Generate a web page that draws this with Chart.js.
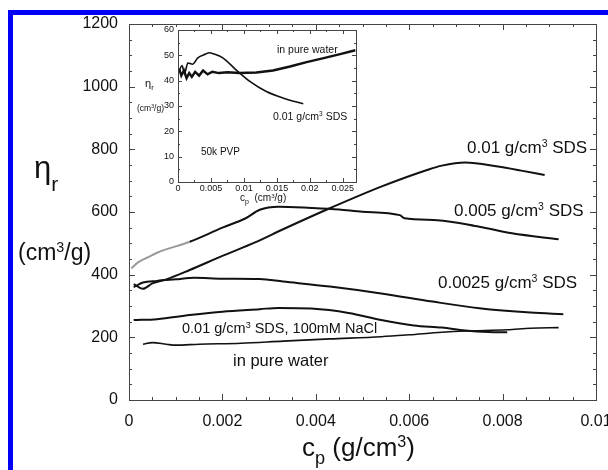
<!DOCTYPE html>
<html>
<head>
<meta charset="utf-8">
<script src="https://cdn.jsdelivr.net/npm/chart.js@4.4.1/dist/chart.umd.min.js"></script>
<style>
  body { margin: 0; background: #fff; }
  #wrap { position: relative; width: 608px; height: 470px; overflow: hidden; font-family: "Liberation Sans", Arial, sans-serif; color: #111; }
  .lbl { position: absolute; white-space: nowrap; line-height: 1; }
  .lbl sup { font-size: 0.62em; vertical-align: 0.55em; line-height: 0; }
  .lbl sub { font-size: 0.7em; vertical-align: -0.45em; line-height: 0; }
  #inset { position: absolute; left: 130px; top: 26px; }
</style>
</head>
<body>
<div id="wrap">
  <canvas id="mainChart" width="608" height="470"></canvas>
  <div id="inset"><canvas id="insetChart" width="232" height="180"></canvas></div>

  <!-- blue frame, top and left only -->
  <div style="position:absolute;left:8px;top:10px;width:600px;height:5px;background:#0000f8"></div>
  <div style="position:absolute;left:8px;top:10px;width:5px;height:460px;background:#0000f8"></div>

  <!-- axis titles -->
  <div class="lbl" style="left:34px;top:152px;font-size:31px">η<sub style="font-size:0.68em;vertical-align:-0.6em">r</sub></div>
  <div class="lbl" style="left:18px;top:241px;font-size:23px">(cm<sup>3</sup>/g)</div>
  <div class="lbl" style="left:302px;top:434px;font-size:26px">c<sub>p</sub> (g/cm<sup>3</sup>)</div>

  <!-- curve labels, main -->
  <div class="lbl" style="left:467px;top:139px;font-size:17px">0.01 g/cm<sup>3</sup> SDS</div>
  <div class="lbl" style="left:454px;top:202px;font-size:17px">0.005 g/cm<sup>3</sup> SDS</div>
  <div class="lbl" style="left:438px;top:274px;font-size:17px">0.0025 g/cm<sup>3</sup> SDS</div>
  <div class="lbl" style="left:182px;top:321px;font-size:14.5px">0.01 g/cm<sup>3</sup> SDS, 100mM NaCl</div>
  <div class="lbl" style="left:233px;top:352px;font-size:16.5px">in pure water</div>

  <!-- inset labels -->
  <div class="lbl" style="left:277px;top:44px;font-size:10.5px">in pure water</div>
  <div class="lbl" style="left:273px;top:111px;font-size:10.5px">0.01 g/cm<sup>3</sup> SDS</div>
  <div class="lbl" style="left:201px;top:147px;font-size:10px">50k PVP</div>
  <div class="lbl" style="left:145px;top:78px;font-size:11px">η<sub>r</sub></div>
  <div class="lbl" style="left:137px;top:104px;font-size:8.5px">(cm<sup>3</sup>/g)</div>
  <div class="lbl" style="left:240px;top:193px;font-size:10px">c<sub>p</sub>&nbsp; (cm<sup>3</sup>/g)</div>
</div>

<script>
// main plot: c_p in g/cm3, eta_r in cm3/g
const sds010X = [0.0001, 0.0003, 0.0005, 0.0008, 0.0013, 0.002, 0.0027, 0.0033, 0.0043, 0.0054, 0.0064, 0.0067, 0.0072, 0.0079, 0.0084, 0.0089];
const sds010Y = [370, 355, 372, 385, 415, 460, 503, 545, 612, 681, 735, 748, 758, 745, 732, 718];

const sds005X = [0.00005, 0.0002, 0.0004, 0.0006, 0.0013, 0.002, 0.0025, 0.0028, 0.0032, 0.0039, 0.0045, 0.005, 0.0058, 0.0059, 0.0066, 0.0075, 0.0082, 0.0092];
const sds005Y = [420, 440, 455, 470, 505, 550, 580, 607, 617, 613, 608, 601, 590, 580, 574, 553, 532, 513];

const sds0025X = [0.0001, 0.0003, 0.0006, 0.001, 0.0014, 0.002, 0.0028, 0.0033, 0.0043, 0.0054, 0.0065, 0.0075, 0.0086, 0.0093];
const sds0025Y = [360, 375, 380, 385, 390, 387, 386, 378, 362, 340, 314, 293, 279, 274];

const naclX = [0.0001, 0.0006, 0.0013, 0.002, 0.0028, 0.0032, 0.0039, 0.0047, 0.0054, 0.0061, 0.0067, 0.0072, 0.0077, 0.0081];
const naclY = [255, 258, 271, 282, 290, 294, 292, 278, 255, 238, 231, 222, 217, 216];

const waterX = [0.0003, 0.0005, 0.0008, 0.001, 0.0015, 0.0024, 0.0033, 0.0043, 0.0054, 0.006, 0.0067, 0.0072, 0.0081, 0.0086, 0.0092];
const waterY = [178, 183, 178, 175, 178, 181, 188, 195, 202, 208, 216, 220, 224, 229, 231];

// inset: 50k PVP
const inSdsX = [0.0002, 0.0006, 0.001, 0.0015, 0.0022, 0.003, 0.0042, 0.0047, 0.0055, 0.0068, 0.0088, 0.0109, 0.0134, 0.016, 0.019];
const inSdsY = [44, 46, 43, 47, 46.5, 49, 50.5, 51, 50.5, 49, 44.3, 39.7, 35.7, 33.1, 30.9];

const inWaterX = [0.0002, 0.0005, 0.0009, 0.0013, 0.0017, 0.0021, 0.0026, 0.0032, 0.0038, 0.0045, 0.0052, 0.0062, 0.0075, 0.0093, 0.0119, 0.0144, 0.017, 0.0195, 0.0221, 0.0246, 0.0269];
const inWaterY = [44.5, 42, 44, 41, 43, 41.5, 43.5, 42, 44, 42.5, 43.5, 43, 43.3, 43, 43.2, 44, 45.6, 47.3, 48.9, 50.5, 52];

function pts(xs, ys) {
  return xs.map((x, i) => ({ x: x, y: ys[i] }));
}

function fmt(v) {
  return v === 0 ? "0" : String(parseFloat(v.toFixed(4)));
}

// box frame with inward ticks on all four sides
const frameTicks = {
  id: "frameTicks",
  afterDatasetsDraw(chart, args, opts) {
    const ctx = chart.ctx;
    const a = chart.chartArea;
    const x = chart.scales.x, y = chart.scales.y;
    ctx.save();
    ctx.strokeStyle = "#444";
    ctx.lineWidth = 1;
    ctx.strokeRect(Math.round(a.left) + 0.5, Math.round(a.top) + 0.5, Math.round(a.right - a.left), Math.round(a.bottom - a.top));
    ctx.beginPath();
    for (let i = 0; i * opts.xMinor <= x.max + 1e-9; i++) {
      const v = i * opts.xMinor;
      const len = Math.abs(v / opts.xMajor - Math.round(v / opts.xMajor)) < 1e-6 ? opts.major : opts.minor;
      const px = Math.round(x.getPixelForValue(v)) + 0.5;
      ctx.moveTo(px, a.bottom); ctx.lineTo(px, a.bottom - len);
      ctx.moveTo(px, a.top); ctx.lineTo(px, a.top + len);
    }
    for (let i = 0; i * opts.yMinor <= y.max + 1e-9; i++) {
      const v = i * opts.yMinor;
      const len = Math.abs(v / opts.yMajor - Math.round(v / opts.yMajor)) < 1e-6 ? opts.major : opts.minor;
      const py = Math.round(y.getPixelForValue(v)) + 0.5;
      ctx.moveTo(a.left, py); ctx.lineTo(a.left + len, py);
      ctx.moveTo(a.right, py); ctx.lineTo(a.right - len, py);
    }
    ctx.stroke();
    ctx.restore();
  }
};

const line = (data, extra) => Object.assign({
  data: data,
  borderColor: "#111",
  borderWidth: 2,
  pointRadius: 0,
  cubicInterpolationMode: "monotone",
  fill: false
}, extra || {});

new Chart(document.getElementById("mainChart").getContext("2d"), {
  type: "line",
  data: {
    datasets: [
      line(pts(sds010X, sds010Y)),
      line(pts(sds005X, sds005Y), {
        segment: { borderColor: (c) => (c.p0.parsed.x < 0.0012 ? "#9a9a9a" : "#111") }
      }),
      line(pts(sds0025X, sds0025Y)),
      line(pts(naclX, naclY)),
      line(pts(waterX, waterY), { borderWidth: 1.6 })
    ]
  },
  options: {
    responsive: false,
    animation: false,
    layout: { padding: { left: 0, top: 24, right: 12, bottom: 0 } },
    plugins: {
      legend: { display: false },
      tooltip: { enabled: false },
      frameTicks: { xMajor: 0.002, xMinor: 0.0005, yMajor: 200, yMinor: 50, major: 6, minor: 3 }
    },
    scales: {
      x: {
        type: "linear",
        min: 0,
        max: 0.01,
        grid: { display: false, drawTicks: false },
        border: { display: false },
        ticks: {
          stepSize: 0.002,
          padding: 12,
          color: "#111",
          font: { family: "Liberation Sans", size: 16 },
          maxRotation: 0,
          autoSkip: false,
          callback: (v) => fmt(v)
        },
        afterFit: (s) => { s.height = 70; s.paddingLeft = 0; s.paddingRight = 0; }
      },
      y: {
        min: 0,
        max: 1200,
        grid: { display: false, drawTicks: false },
        border: { display: false },
        ticks: {
          stepSize: 200,
          padding: 11,
          color: "#111",
          font: { family: "Liberation Sans", size: 16 },
          callback: (v) => String(v)
        },
        afterFit: (s) => { s.width = 129; s.paddingTop = 0; s.paddingBottom = 0; }
      }
    }
  },
  plugins: [frameTicks]
});

new Chart(document.getElementById("insetChart").getContext("2d"), {
  type: "line",
  data: {
    datasets: [
      line(pts(inSdsX, inSdsY), { borderWidth: 1.6 }),
      line(pts(inWaterX, inWaterY), { borderWidth: 2.4, cubicInterpolationMode: "default", tension: 0 })
    ]
  },
  options: {
    responsive: false,
    animation: false,
    layout: { padding: { left: 0, top: 4, right: 6, bottom: 0 } },
    plugins: {
      legend: { display: false },
      tooltip: { enabled: false },
      frameTicks: { xMajor: 0.005, xMinor: 0.0025, yMajor: 10, yMinor: 5, major: 4, minor: 2 }
    },
    scales: {
      x: {
        type: "linear",
        min: 0,
        max: 0.027,
        grid: { display: false, drawTicks: false },
        border: { display: false },
        ticks: {
          stepSize: 0.005,
          includeBounds: false,
          padding: 1,
          color: "#111",
          font: { family: "Liberation Sans", size: 9 },
          maxRotation: 0,
          autoSkip: false,
          callback: (v) => fmt(v)
        },
        afterFit: (s) => { s.height = 24; s.paddingLeft = 0; s.paddingRight = 0; }
      },
      y: {
        min: 0,
        max: 60,
        grid: { display: false, drawTicks: false },
        border: { display: false },
        ticks: {
          stepSize: 10,
          padding: 4,
          color: "#111",
          font: { family: "Liberation Sans", size: 9 }
        },
        afterFit: (s) => { s.width = 48; s.paddingTop = 0; s.paddingBottom = 0; }
      }
    }
  },
  plugins: [frameTicks]
});
</script>
</body>
</html>
